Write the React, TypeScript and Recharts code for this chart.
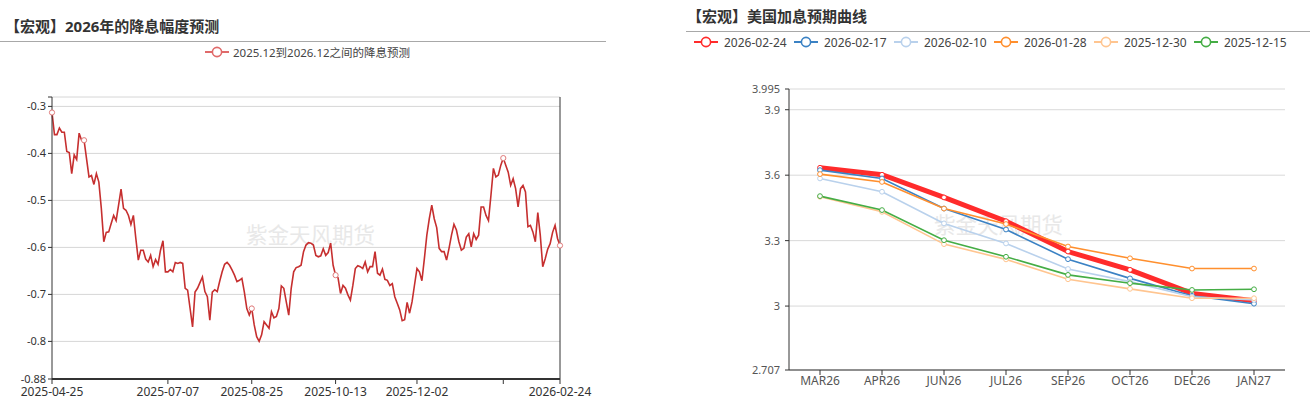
import React from 'react';
import { LineChart, Line, XAxis, YAxis, CartesianGrid, ReferenceLine } from 'recharts';

// ---------- Left chart: 2026年的降息幅度预测 ----------
const cutTitle = '【宏观】2026年的降息幅度预测';
const cutSeriesName = '2025.12到2026.12之间的降息预测';
const cutTickLabels = ['2025-04-25', '2025-07-07', '2025-08-25', '2025-10-13', '2025-12-02', '', '2026-02-24'];
const cutTickIdx = [0, 47, 81, 115, 148, 183, 206];
const cutYTicks = [-0.88, -0.8, -0.7, -0.6, -0.5, -0.4, -0.3, -0.28];
const cutMarkerIdx = [0, 13, 81, 115, 183, 206];
const cutValues = [
  -0.313, -0.36, -0.36, -0.346, -0.355, -0.355, -0.396, -0.398, -0.443, -0.403,
  -0.413, -0.357, -0.372, -0.372, -0.411, -0.45, -0.447, -0.466, -0.443, -0.461,
  -0.517, -0.588, -0.568, -0.567, -0.549, -0.532, -0.543, -0.51, -0.476, -0.517,
  -0.521, -0.532, -0.551, -0.532, -0.581, -0.627, -0.606, -0.606, -0.625, -0.631,
  -0.617, -0.641, -0.626, -0.636, -0.606, -0.586, -0.652, -0.652, -0.647, -0.652,
  -0.632, -0.634, -0.632, -0.634, -0.687, -0.691, -0.73, -0.769, -0.695, -0.687,
  -0.675, -0.663, -0.694, -0.705, -0.755, -0.695, -0.69, -0.694, -0.672, -0.652,
  -0.636, -0.632, -0.638, -0.648, -0.659, -0.673, -0.67, -0.666, -0.695, -0.73,
  -0.744, -0.73, -0.765, -0.79, -0.8, -0.786, -0.758, -0.765, -0.772, -0.737,
  -0.75, -0.747, -0.73, -0.682, -0.687, -0.716, -0.744, -0.687, -0.652, -0.643,
  -0.641, -0.638, -0.609, -0.595, -0.59, -0.591, -0.595, -0.617, -0.62, -0.618,
  -0.603, -0.617, -0.611, -0.591, -0.638, -0.659, -0.665, -0.698, -0.681, -0.687,
  -0.701, -0.712, -0.681, -0.645, -0.639, -0.641, -0.645, -0.631, -0.652, -0.641,
  -0.641, -0.609, -0.655, -0.659, -0.646, -0.668, -0.67, -0.681, -0.677, -0.705,
  -0.719, -0.733, -0.756, -0.754, -0.717, -0.74, -0.716, -0.68, -0.645, -0.652,
  -0.671, -0.624, -0.574, -0.539, -0.51, -0.539, -0.558, -0.602, -0.609, -0.609,
  -0.627, -0.602, -0.574, -0.551, -0.563, -0.588, -0.606, -0.602, -0.578, -0.571,
  -0.599, -0.571, -0.583, -0.574, -0.514, -0.514, -0.532, -0.543, -0.489, -0.432,
  -0.45, -0.446, -0.425, -0.41, -0.425, -0.44, -0.468, -0.454, -0.475, -0.514,
  -0.475, -0.468, -0.482, -0.556, -0.553, -0.567, -0.588, -0.526, -0.574, -0.641,
  -0.624, -0.604, -0.592, -0.568, -0.553, -0.581, -0.596,
];

// ---------- Right chart: 美国加息预期曲线 ----------
const hikeTitle = '【宏观】美国加息预期曲线';
const months = ['MAR26', 'APR26', 'JUN26', 'JUL26', 'SEP26', 'OCT26', 'DEC26', 'JAN27'];
const hikeYTicks = [2.707, 3, 3.3, 3.6, 3.9, 3.995];
const s20260224 = [3.634, 3.602, 3.498, 3.389, 3.25, 3.166, 3.058, 3.024];
const s20260217 = [3.623, 3.585, 3.447, 3.351, 3.215, 3.127, 3.047, 3.011];
const s20260210 = [3.585, 3.524, 3.379, 3.287, 3.17, 3.112, 3.043, 3.028];
const s20260128 = [3.605, 3.569, 3.447, 3.376, 3.273, 3.219, 3.172, 3.172];
const s20251230 = [3.501, 3.432, 3.284, 3.214, 3.123, 3.079, 3.036, 3.036];
const s20251215 = [3.504, 3.44, 3.302, 3.226, 3.143, 3.105, 3.074, 3.077];
const hikeNames = ['2026-02-24', '2026-02-17', '2026-02-10', '2026-01-28', '2025-12-30', '2025-12-15'];
const hikeValues = [s20260224, s20260217, s20260210, s20260128, s20251230, s20251215];
const hikeColors = ['#ff2b2b', '#3b82c4', '#b9d1ec', '#ff8f2e', '#ffc590', '#45ad45'];
const hikeWidths = [5, 1.6, 1.6, 1.6, 1.6, 1.6];

const watermark = '紫金天风期货';
const FONT = '"Noto Sans", "Noto Sans CJK SC", sans-serif';

const cutData = cutValues.map((v, i) => ({ i, v }));
const hikeData = months.map((m, k) => {
  const row: any = { m };
  hikeNames.forEach((n, j) => { row[n] = hikeValues[j][k]; });
  return row;
});

const cutDot = (p: any) =>
  cutMarkerIdx.includes(p.index) ? (
    <circle key={`d${p.index}`} cx={p.cx} cy={p.cy} r={2.6} fill="#fff" stroke="#e07a7a" strokeWidth={1} />
  ) : (
    <g key={`d${p.index}`} />
  );

const LegendIcon = ({ color }: { color: string }) => (
  <svg width={24} height={14} style={{ display: 'block' }}>
    <line x1={0} y1={7} x2={24} y2={7} stroke={color} strokeWidth={2} />
    <circle cx={12} cy={7} r={4.6} fill="#fff" stroke={color} strokeWidth={1.6} />
  </svg>
);

export default function App() {
  return (
    <div style={{ position: 'absolute', left: 0, top: 0, width: 1310, height: 398, background: '#fff', fontFamily: FONT, overflow: 'hidden' }}>
      {/* Left chart header */}
      <div style={{ position: 'absolute', left: 5, top: 18, fontSize: 15, lineHeight: '17px', fontWeight: 700, color: '#333', whiteSpace: 'nowrap' }}>{cutTitle}</div>
      <div style={{ position: 'absolute', left: 0, top: 41, width: 606, height: 1, background: '#a8a8a8' }} />
      <div style={{ position: 'absolute', left: 205, top: 45, height: 14, display: 'flex', alignItems: 'center', whiteSpace: 'nowrap' }}>
        <LegendIcon color="#e06a6a" />
        <span style={{ marginLeft: 4, fontSize: 11.5, color: '#444' }}>{cutSeriesName}</span>
      </div>
      <div style={{ position: 'absolute', left: 246, top: 222, fontSize: 21.5, lineHeight: '26px', color: '#e8e8e8', whiteSpace: 'nowrap' }}>{watermark}</div>
      <div style={{ position: 'absolute', left: 0, top: 0 }}>
        <LineChart width={606} height={398} data={cutData} margin={{ top: 97, right: 46, bottom: 0, left: 8 }}>
          <CartesianGrid horizontal vertical={false} stroke="#d6d6d6" />
          <XAxis
            type="number"
            dataKey="i"
            domain={[0, 206]}
            ticks={cutTickIdx}
            interval={0}
            height={19}
            tickFormatter={(v: number) => cutTickLabels[cutTickIdx.indexOf(v)] ?? ''}
            axisLine={{ stroke: '#333', strokeWidth: 2 }}
            tickLine={{ stroke: '#333' }}
            tickSize={5}
            tickMargin={3}
            tick={{ fontSize: 12, fill: '#333', fontFamily: FONT }}
          />
          <YAxis
            type="number"
            domain={[-0.88, -0.28]}
            ticks={cutYTicks}
            interval={0}
            width={44}
            allowDataOverflow
            tickFormatter={(v: number) => (v > -0.29 ? '' : String(v))}
            axisLine={{ stroke: '#333' }}
            tickLine={{ stroke: '#333' }}
            tickSize={4}
            tickMargin={2}
            tick={{ fontSize: 11, fill: '#333', fontFamily: FONT }}
          />
          <ReferenceLine x={206} stroke="#333" strokeWidth={1} ifOverflow="extendDomain" />
          <Line
            type="linear"
            dataKey="v"
            stroke="#c62f2f"
            strokeWidth={1.6}
            dot={cutDot}
            activeDot={false}
            isAnimationActive={false}
          />
        </LineChart>
      </div>

      {/* Right chart header */}
      <div style={{ position: 'absolute', left: 687, top: 8, fontSize: 15, lineHeight: '17px', fontWeight: 700, color: '#333', whiteSpace: 'nowrap' }}>{hikeTitle}</div>
      <div style={{ position: 'absolute', left: 686, top: 31, width: 624, height: 1, background: '#a8a8a8' }} />
      {hikeNames.map((n, j) => (
        <div key={n} style={{ position: 'absolute', left: 694 + j * 100, top: 35, height: 14, display: 'flex', alignItems: 'center', whiteSpace: 'nowrap' }}>
          <LegendIcon color={hikeColors[j]} />
          <span style={{ marginLeft: 6, fontSize: 12, color: '#444' }}>{n}</span>
        </div>
      ))}
      <div style={{ position: 'absolute', left: 934, top: 212, fontSize: 21.5, lineHeight: '26px', color: '#e8e8e8', whiteSpace: 'nowrap' }}>{watermark}</div>
      <div style={{ position: 'absolute', left: 680, top: 0 }}>
        <LineChart width={630} height={398} data={hikeData} margin={{ top: 89, right: 25, bottom: 8, left: 49 }}>
          <CartesianGrid horizontal vertical={false} stroke="#d9d9d9" />
          <XAxis
            dataKey="m"
            type="category"
            interval={0}
            height={20}
            padding={{ left: 31, right: 31 }}
            axisLine={{ stroke: '#333' }}
            tickLine={{ stroke: '#333' }}
            tickSize={5}
            tickMargin={1}
            tick={{ fontSize: 12, fill: '#555', fontFamily: FONT }}
          />
          <YAxis
            type="number"
            domain={[2.707, 3.995]}
            ticks={hikeYTicks}
            interval={0}
            width={60}
            allowDataOverflow
            tickFormatter={(v: number) => String(v)}
            axisLine={{ stroke: '#333' }}
            tickLine={{ stroke: '#333' }}
            tickSize={4}
            tickMargin={5}
            tick={{ fontSize: 11, fill: '#555', fontFamily: FONT }}
          />
          {hikeNames.map((n, j) => (
            <Line
              key={n}
              type="linear"
              dataKey={n}
              stroke={hikeColors[j]}
              strokeWidth={hikeWidths[j]}
              dot={{ r: 2.4, fill: '#fff', stroke: hikeColors[j], strokeWidth: 1 }}
              activeDot={false}
              isAnimationActive={false}
            />
          ))}
        </LineChart>
      </div>
    </div>
  );
}
